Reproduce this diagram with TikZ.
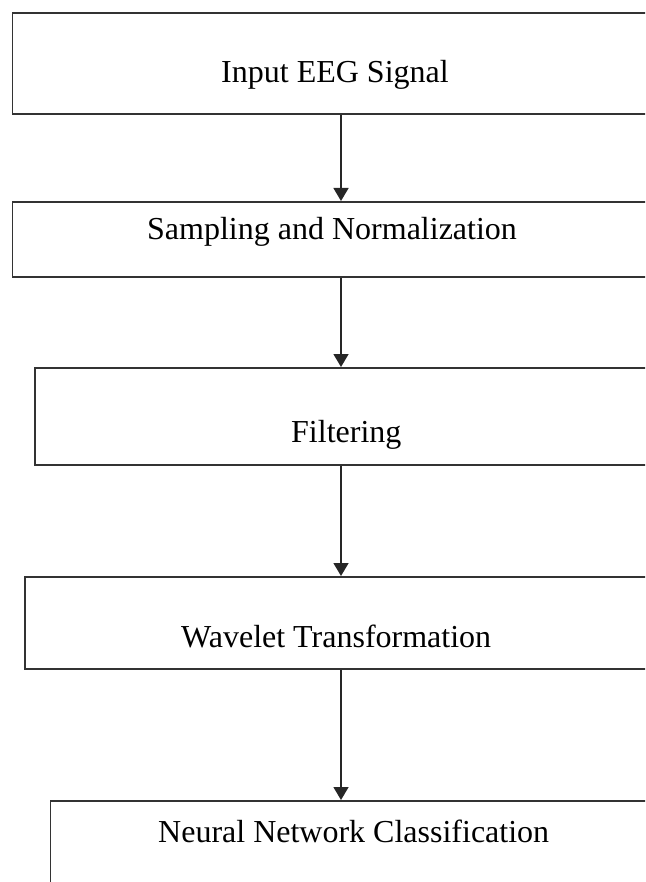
\documentclass[tikz,border=0pt]{standalone}
\usepackage{fontspec}
\setmainfont{Liberation Serif}
\usetikzlibrary{arrows.meta}
\begin{document}
\begin{tikzpicture}[x=1pt,y=-1pt,
  stagebox/.style={draw=black!80, line width=1.8pt, rectangle, inner sep=0pt, anchor=north west},
  stagetext/.style={font=\fontsize{32}{36}\selectfont, inner sep=0pt, anchor=base west},
  flow/.style={draw=black!85, line width=1.5pt, -{Triangle[length=13pt,width=15pt]}}]
  \useasboundingbox (0,0) rectangle (645,882);
  \clip (0,0) rectangle (645,882);
  % stage outlines (they run past the right and bottom edges)
  \node[stagebox, minimum width=700pt, minimum height=101pt] (b1) at (11.5,12) {};
  \node[stagebox, minimum width=700pt, minimum height=75pt] (b2) at (11.5,201) {};
  \node[stagebox, minimum width=700pt, minimum height=97pt] (b3) at (34,367) {};
  \node[stagebox, minimum width=700pt, minimum height=92pt] (b4) at (24,576) {};
  \node[stagebox, minimum width=700pt, minimum height=200pt] (b5) at (49.5,800) {};
  % stage labels
  \node[stagetext] (t1) at (221,82.7) {Input EEG Signal};
  \node[stagetext] (t2) at (147,240) {Sampling and Normalization};
  \node[stagetext] (t3) at (291,442) {Filtering};
  \node[stagetext] (t4) at (181,647) {Wavelet Transformation};
  \node[stagetext] (t5) at (158,842) {Neural Network Classification};
  % the flow line runs down one vertical
  \coordinate (axis) at (341,0);
  \draw[flow] (axis |- b1.south) -- (axis |- b2.north);
  \draw[flow] (axis |- b2.south) -- (axis |- b3.north);
  \draw[flow] (axis |- b3.south) -- (axis |- b4.north);
  \draw[flow] (axis |- b4.south) -- (axis |- b5.north);
\end{tikzpicture}
\end{document}
